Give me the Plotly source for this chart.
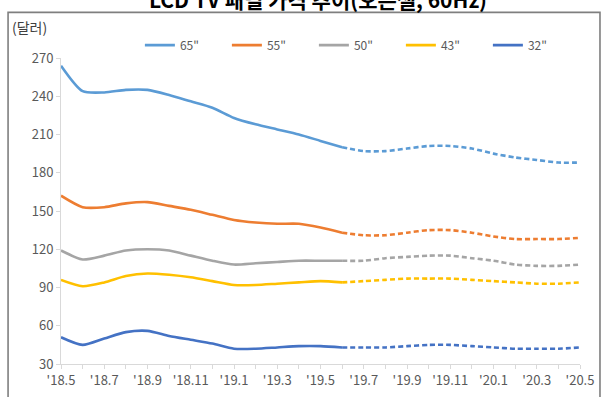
import plotly.graph_objects as go

# Monthly panel prices, May 2018 - May 2020 (USD); values from '19.6 on are forecasts
months = ["'18.5", "'18.6", "'18.7", "'18.8", "'18.9", "'18.10", "'18.11", "'18.12",
          "'19.1", "'19.2", "'19.3", "'19.4", "'19.5", "'19.6", "'19.7", "'19.8",
          "'19.9", "'19.10", "'19.11", "'19.12", "'20.1", "'20.2", "'20.3", "'20.4", "'20.5"]
tick_labels = [m if i % 2 == 0 else "" for i, m in enumerate(months)]

series_names = ['65"', '55"', '50"', '43"', '32"']
price_65 = [264, 244, 243, 245, 245, 241, 236, 231, 223, 218, 214, 210, 205, 200,
            197, 197, 199, 201, 201, 199, 195, 192, 190, 188, 188]
price_55 = [162, 153, 153, 156, 157, 154, 151, 147, 143, 141, 140, 140, 137, 133,
            131, 131, 133, 135, 135, 133, 130, 128, 128, 128, 129]
price_50 = [119, 112, 115, 119, 120, 119, 115, 111, 108, 109, 110, 111, 111, 111,
            111, 113, 114, 115, 115, 113, 111, 108, 107, 107, 108]
price_43 = [96, 91, 94, 99, 101, 100, 98, 95, 92, 92, 93, 94, 95, 94,
            95, 96, 97, 97, 97, 96, 95, 94, 93, 93, 94]
price_32 = [51, 45, 50, 55, 56, 52, 49, 46, 42, 42, 43, 44, 44, 43,
            43, 43, 44, 45, 45, 44, 43, 42, 42, 42, 43]
series_values = [price_65, price_55, price_50, price_43, price_32]
colors = ["#5B9BD5", "#ED7D31", "#A5A5A5", "#FFC000", "#4472C4"]

split = months.index("'19.6")
x_idx = list(range(len(months)))

fig = go.Figure()
for name, vals, col in zip(series_names, series_values, colors):
    fig.add_trace(go.Scatter(
        x=x_idx[:split + 1], y=vals[:split + 1], mode="lines", name=name,
        line=dict(color=col, width=2.6, shape="spline", smoothing=0.7),
        legendgroup=name, showlegend=True))
    fig.add_trace(go.Scatter(
        x=x_idx[split:], y=vals[split:], mode="lines", name=name,
        line=dict(color=col, width=2.6, shape="spline", smoothing=0.7, dash="5px,3px"),
        legendgroup=name, showlegend=False))

font_family = "Noto Sans CJK KR, Noto Sans, sans-serif"

fig.update_layout(
    width=602, height=397,
    margin=dict(l=61, r=22, t=58, b=33, autoexpand=False),
    paper_bgcolor="white", plot_bgcolor="white",
    font=dict(family=font_family, color="#595959", size=13),
    xaxis=dict(range=[0, 24], tickvals=x_idx, ticktext=tick_labels, tickangle=0,
               showgrid=False, zeroline=False, showline=True, linecolor="#D9D9D9",
               linewidth=1, ticks="outside", ticklen=4, tickcolor="#D9D9D9",
               tickfont=dict(size=13, color="#595959")),
    yaxis=dict(range=[30, 270], dtick=30, tick0=30, showgrid=False, zeroline=False,
               showline=True, linecolor="#D9D9D9", linewidth=1, ticks="outside",
               ticklen=4, tickcolor="#D9D9D9", tickfont=dict(size=13, color="#595959")),
    legend=dict(orientation="h", x=0.152, y=1.042, xanchor="left", yanchor="middle",
                bgcolor="rgba(0,0,0,0)", font=dict(size=12, color="#595959"),
                entrywidth=42, entrywidthmode="pixels", itemwidth=30,
                tracegroupgap=0),
    showlegend=True,
)

# outer chart frame
fig.add_shape(type="rect", xref="paper", yref="paper",
              x0=-0.102, x1=1.0385, y0=-0.2, y1=1.149,
              line=dict(color="#7F7F7F", width=1.6), fillcolor="rgba(0,0,0,0)", layer="below")

# unit label
fig.add_annotation(text="(달러)", xref="paper", yref="paper", x=-0.098, y=1.101,
                   xanchor="left", yanchor="middle", showarrow=False,
                   font=dict(size=14, color="#404040", family=font_family))

# chart title above the frame
fig.add_annotation(text="<b>LCD TV 패널 가격 추이(오픈셀, 60Hz)</b>", xref="paper", yref="paper",
                   x=0.495, y=1.192, xanchor="center", yanchor="middle", showarrow=False,
                   font=dict(size=21, color="#000000", family=font_family))

fig.write_html("out.html")
